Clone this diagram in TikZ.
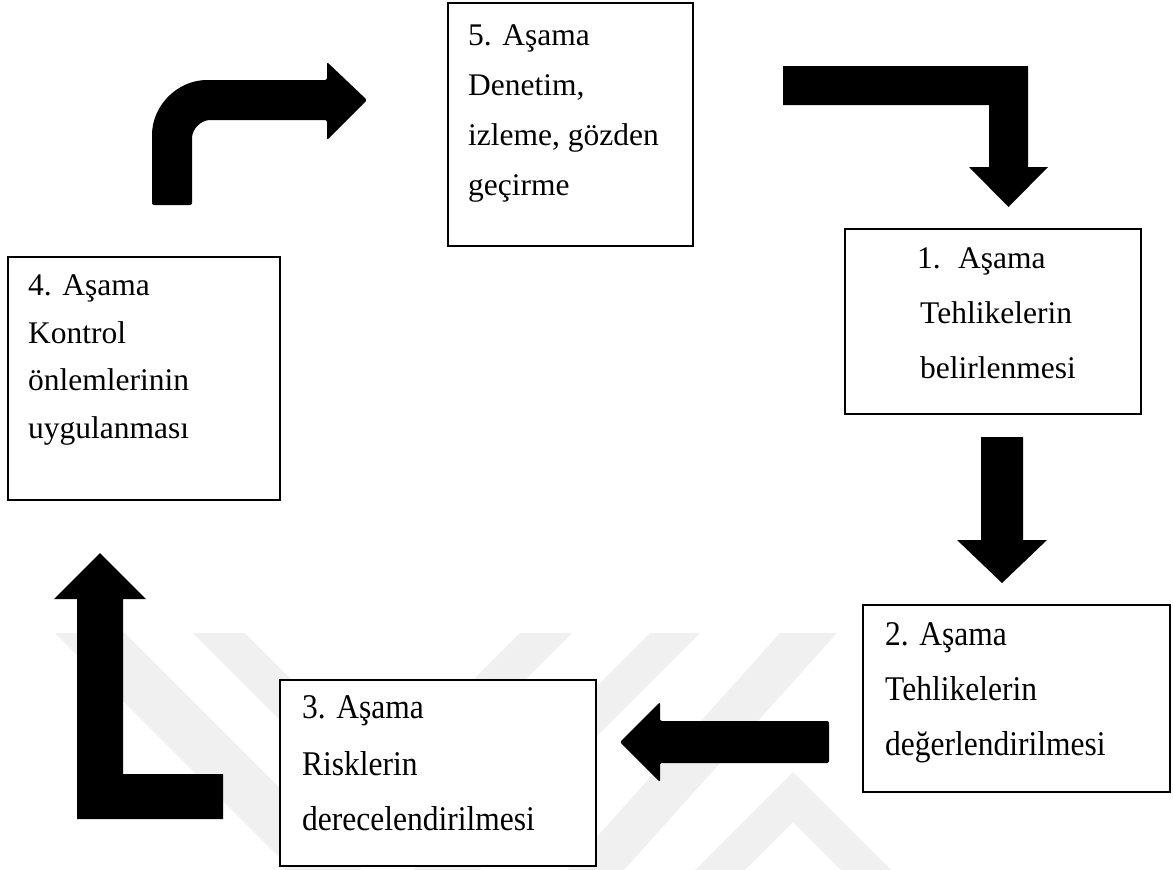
\documentclass[tikz,border=0pt]{standalone}
\usepackage{fontspec}
\setmainfont{Liberation Serif}
\newcommand{\tallish}[1]{\scalebox{1}[1.1]{#1}}
\begin{document}
\begin{tikzpicture}[x=1pt,y=-1pt,
  box/.style={draw=black,line width=2pt,fill=white,inner sep=0pt},
  txt/.style={inner sep=0pt,anchor=base west,font=\fontsize{31.5}{37}\selectfont},
  blockarrow/.style={fill=black,draw=none},
  wmark/.style={fill=black!6,draw=none}]
\useasboundingbox (0,0) rectangle (1173,870);
% watermark
\fill[wmark] (55,633) -- (125,633) -- (362,870) -- (292,870) -- cycle;
\fill[wmark] (193,633) -- (245,633) -- (482,870) -- (430,870) -- cycle;
\fill[wmark] (520,633) -- (572,633) -- (335,870) -- (283,870) -- cycle;
\fill[wmark] (650,633) -- (700,633) -- (463,870) -- (413,870) -- cycle;
\fill[wmark] (780,633) -- (837,633) -- (624,870) -- (567,870) -- cycle;
\fill[wmark,even odd rule] (695,870) -- (793,772) -- (891,870) -- cycle (745,870) -- (793,822) -- (841,870) -- cycle;
% boxes
\node[box,minimum width=245pt,minimum height=243pt] (s5) at (570.5,124.5) {};
\node[box,minimum width=296pt,minimum height=185pt] (s1) at (993,321.5) {};
\node[box,minimum width=272pt,minimum height=243pt] (s4) at (144,378.5) {};
\node[box,minimum width=307pt,minimum height=187pt] (s2) at (1016.5,698.5) {};
\node[box,minimum width=316pt,minimum height=186pt] (s3) at (438,773) {};
% texts
\node[txt] (t5a) at (468,45) {5. Aşama};
\node[txt] (t5b) at (468,95) {Denetim,};
\node[txt] (t5c) at (468,145) {izleme, gözden};
\node[txt] (t5d) at (468,195) {geçirme};
\node[txt] (t1n) at (917,268) {1.};
\node[txt] (t1a) at (958,268) {Aşama};
\node[txt] (t1b) at (920,323) {Tehlikelerin};
\node[txt] (t1c) at (920,378) {belirlenmesi};
\node[txt] (t4a) at (28,295) {4. Aşama};
\node[txt] (t4b) at (28,343) {Kontrol};
\node[txt] (t4c) at (28,390) {önlemlerinin};
\node[txt] (t4d) at (28,438) {uygulanması};
\node[txt] (t2a) at (885,645) {\tallish{2. Aşama}};
\node[txt] (t2b) at (885,700) {\tallish{Tehlikelerin}};
\node[txt] (t2c) at (885,755) {\tallish{değerlendirilmesi}};
\node[txt] (t3a) at (302,718) {\tallish{3. Aşama}};
\node[txt] (t3b) at (302,775) {\tallish{Risklerin}};
\node[txt] (t3c) at (302,830) {\tallish{derecelendirilmesi}};
% block arrows
% 4 -> 5 (curved)
\coordinate (a45tail) at (172,205);
\coordinate (a45tip) at (367,100);
\fill[blockarrow,rounded corners=2pt] (152,205) -- (152,137) .. controls (152,105.5) and (177.5,80) .. (209,80)
  -- (327,80) -- (327,62) -- (a45tip) -- (327,140) -- (327,120) -- (212,120)
  .. controls (201,120) and (192,129) .. (192,140) -- (192,205) -- cycle;
% 5 -> 1
\coordinate (a51tail) at (783,85.5);
\coordinate (a51tip) at (1008.5,207);
\fill[blockarrow] (783,66) -- (1028,66) -- (1028,167) -- (1048,167) -- (a51tip) -- (969,167) -- (989,167) -- (989,105) -- (783,105) -- cycle;
% 1 -> 2
\coordinate (a12tail) at (1002,437);
\coordinate (a12tip) at (1002,583);
\fill[blockarrow] (981,437) -- (1023,437) -- (1023,540) -- (1047,540) -- (a12tip) -- (957,540) -- (981,540) -- cycle;
% 2 -> 3
\coordinate (a23tail) at (829,742);
\coordinate (a23tip) at (620,742);
\fill[blockarrow,rounded corners=2pt] (829,721) -- (829,763) -- (660,763) -- (660,782) -- (a23tip) -- (660,702) -- (660,721) -- cycle;
% 3 -> 4
\coordinate (a34tail) at (223,796.5);
\coordinate (a34tip) at (100,553);
\fill[blockarrow] (223,774) -- (223,819) -- (77,819) -- (77,599) -- (54,599) -- (a34tip) -- (146,599) -- (123,599) -- (123,774) -- cycle;
\end{tikzpicture}
\end{document}
